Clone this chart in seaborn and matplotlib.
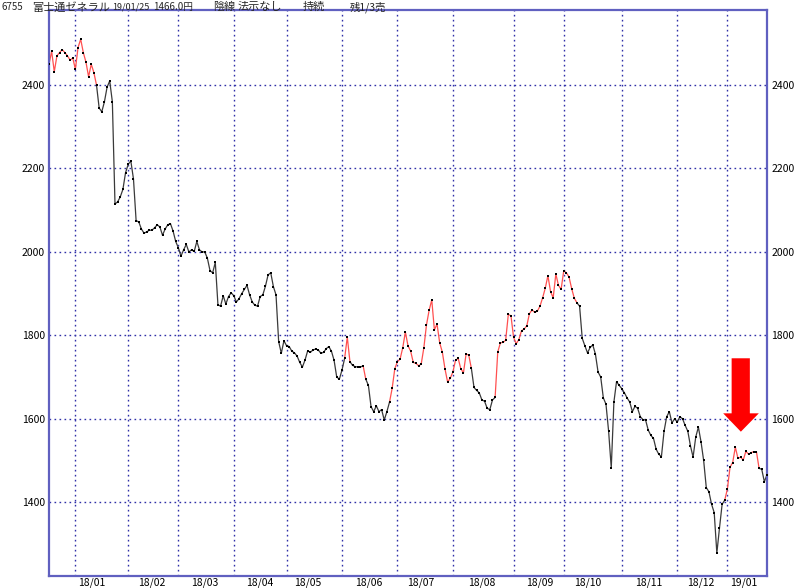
import numpy as np
import pandas as pd
import seaborn as sns
import matplotlib.pyplot as plt
from matplotlib.patches import Polygon

# daily closes, 2017/12 .. 2019/01/25 (one value per trading day)
prices = [
    2450, 2481, 2432, 2470, 2478, 2485, 2478, 2470, 2460, 2465,
    2438, 2490, 2510, 2478, 2455, 2420, 2450, 2430, 2400, 2345,
    2336, 2360, 2395, 2410, 2360, 2115, 2120, 2132, 2150, 2190,
    2210, 2218, 2175, 2075, 2072, 2055, 2045, 2048, 2052, 2052,
    2058, 2065, 2060, 2040, 2055, 2065, 2068, 2050, 2025, 2010,
    1990, 2005, 2018, 2000, 2005, 2001, 2025, 2005, 2000, 2000,
    1985, 1955, 1950, 1975, 1873, 1870, 1895, 1875, 1893, 1902,
    1895, 1880, 1888, 1900, 1910, 1920, 1897, 1880, 1872, 1870,
    1893, 1897, 1918, 1945, 1950, 1917, 1897, 1785, 1757, 1787,
    1775, 1773, 1762, 1758, 1750, 1735, 1724, 1741, 1763, 1759,
    1765, 1767, 1765, 1757, 1759, 1768, 1773, 1762, 1740, 1700,
    1695, 1717, 1745, 1796, 1737, 1728, 1725, 1724, 1724, 1727,
    1695, 1680, 1629, 1617, 1631, 1617, 1622, 1597, 1617, 1640,
    1673, 1720, 1737, 1743, 1770, 1808, 1775, 1762, 1735, 1733,
    1727, 1731, 1770, 1825, 1860, 1885, 1813, 1827, 1782, 1760,
    1720, 1688, 1697, 1712, 1740, 1745, 1720, 1710, 1755, 1753,
    1721, 1675, 1668, 1662, 1645, 1642, 1625, 1622, 1645, 1651,
    1760, 1782, 1783, 1788, 1850, 1847, 1795, 1780, 1790, 1811,
    1815, 1823, 1852, 1861, 1855, 1858, 1870, 1890, 1913, 1943,
    1905, 1890, 1947, 1920, 1910, 1955, 1950, 1940, 1912, 1889,
    1878, 1870, 1793, 1775, 1758, 1771, 1777, 1755, 1712, 1700,
    1650, 1635, 1570, 1482, 1640, 1689, 1680, 1672, 1662, 1650,
    1640, 1617, 1630, 1625, 1605, 1598, 1597, 1573, 1560, 1553,
    1527, 1515, 1509, 1570, 1605, 1617, 1590, 1600, 1592, 1605,
    1600, 1584, 1570, 1535, 1508, 1556, 1580, 1545, 1500, 1435,
    1425, 1395, 1375, 1278, 1338, 1395, 1405, 1432, 1484, 1495,
    1532, 1505, 1508, 1501, 1522, 1515, 1519, 1521, 1521, 1481,
    1479, 1449, 1466,
]

# stretches (first/last trading day index) drawn in red
red_spans = [(0, 18), (112, 114), (119, 120), (129, 160), (169, 200), (256, 269)]

month_starts = [10, 30, 49, 70, 90, 111, 132, 153, 176, 195, 217, 238, 257]
month_label_pos = [16, 39, 59, 80, 98, 121, 141, 164, 186, 204, 227, 247, 263]
month_labels = ['18/01', '18/02', '18/03', '18/04', '18/05', '18/06', '18/07',
                '18/08', '18/09', '18/10', '18/11', '18/12', '19/01']
y_ticks = [1400, 1600, 1800, 2000, 2200, 2400]

# header pieces: text, left x in pixels, font size
header = [('6755', 2, 7), ('富士通ゼネラル', 32, 8), ('19/01/25', 112, 6.5),
          ('1466.0円', 153, 7), ('陰線', 213, 8), ('法示なし', 238, 8),
          ('持続', 303, 8), ('残1/3売', 350, 7.5)]

RED = '#ff5050'
DARK = '#3a3a3a'
GRID = '#3030a8'
FRAME = '#6060c0'

sns.set_style('white')
plt.rcParams['font.family'] = ['Noto Sans CJK JP', 'DejaVu Sans']

n = len(prices)
idx = np.arange(n)
is_red = np.zeros(n - 1, dtype=bool)
for a, b in red_spans:
    is_red[a:b] = True
state = np.where(is_red, 'up', 'down')

rows = []
start = 0
run = 0
for i in range(1, n):
    if i == n - 1 or state[i] != state[start]:
        for j in range(start, i + 1):
            rows.append({'run': run, 'idx': j, 'price': prices[j], 'state': state[start]})
        run += 1
        start = i
line_df = pd.DataFrame(rows)

fig = plt.figure(figsize=(8, 5.88), dpi=100)
ax = fig.add_axes([49 / 800, 12 / 588, 718 / 800, 566 / 588])

sns.lineplot(data=line_df, x='idx', y='price', hue='state', units='run',
             estimator=None, sort=False, palette={'up': RED, 'down': DARK},
             linewidth=0.9, legend=False, ax=ax)
sns.scatterplot(x=idx, y=prices, color='black', s=4, marker='s',
                linewidth=0, ax=ax, zorder=3)

ax.set_xlim(0, n - 1)
ax.set_ylim(1223, 2580)

ax.set_xticks(month_starts)
ax.set_xticklabels([])
ax.set_xticks(month_label_pos, minor=True)
ax.set_xticklabels(month_labels, minor=True)
ax.set_yticks(y_ticks)
ax.set_yticklabels([str(v) for v in y_ticks])
ax.tick_params(axis='both', which='both', length=0, labelsize=7.5, colors='black')
ax.tick_params(axis='y', pad=3, labelright=True, labelleft=True)
ax.tick_params(axis='x', which='minor', pad=1)
ax.set_xlabel('')
ax.set_ylabel('')

ax.grid(True, which='major', color=GRID, linestyle=(0, (1.2, 2.4)), linewidth=1.0)
for s in ax.spines.values():
    s.set_color(FRAME)
    s.set_linewidth(1.6)

# red marker arrow
arrow = Polygon([(258.6, 1745), (265.5, 1745), (265.5, 1613), (268.9, 1613),
                 (262.1, 1569), (255.4, 1613), (258.6, 1613)],
                closed=True, facecolor='#ff0000', edgecolor='none', zorder=4)
ax.add_patch(arrow)

for txt, px, fs in header:
    fig.text(px / 800, 1 - 7 / 588, txt, fontsize=fs, va='center', ha='left')

fig.savefig('out.png', dpi=100, facecolor='white')
